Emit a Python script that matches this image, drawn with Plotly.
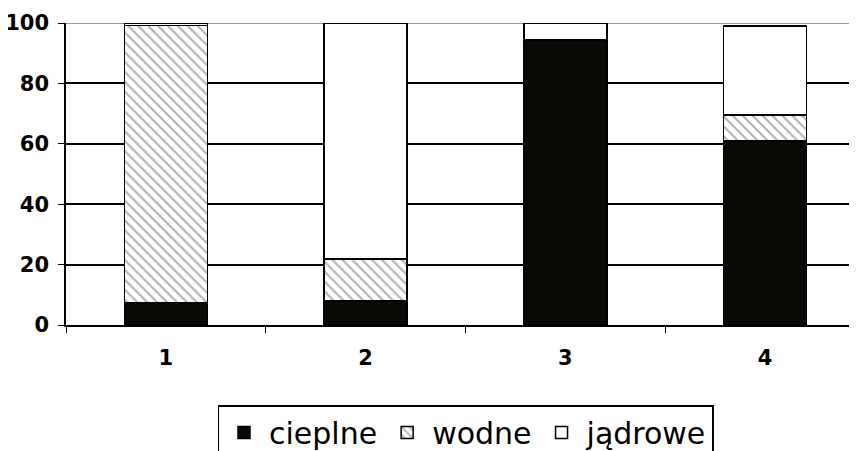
import plotly.graph_objects as go

categories = ["1", "2", "3", "4"]
cieplne = [7.4, 8.0, 94.3, 61.0]
wodne = [91.7, 13.8, 0.0, 8.5]
jadrowe = [0.9, 78.2, 5.7, 29.5]
y_ticks = [0, 20, 40, 60, 80, 100]

tick_font = dict(size=21, family="DejaVu Sans, Arial, sans-serif", weight="bold", color="black")

fig = go.Figure()
line = dict(color="black", width=1.5)
fig.add_trace(go.Bar(x=categories, y=cieplne, name="cieplne",
                     marker=dict(color="#0a0906", line=line)))
fig.add_trace(go.Bar(x=categories, y=wodne, name="wodne",
                     marker=dict(color="white", line=line,
                                 pattern=dict(shape="\\", fgcolor="#666666", bgcolor="white",
                                              size=7, solidity=0.3))))
fig.add_trace(go.Bar(x=categories, y=jadrowe, name="jądrowe",
                     marker=dict(color="white", line=line)))

fig.add_shape(type="line", xref="paper", yref="y", x0=0, x1=1, y0=100, y1=100,
              line=dict(color="#999999", width=2), layer="below")

fig.update_layout(
    barmode="stack",
    bargap=0.585,
    width=857, height=451,
    margin=dict(l=58, r=0, t=15, b=134, autoexpand=False),
    paper_bgcolor="white", plot_bgcolor="white",
    font=dict(family="DejaVu Sans, Arial, sans-serif", color="black"),
    showlegend=True,
    legend=dict(orientation="h", x=0.5, xanchor="center", y=-0.265, yanchor="top",
                font=dict(size=30, family="DejaVu Sans, Arial, sans-serif"),
                bordercolor="black", borderwidth=1.5, traceorder="normal",
                itemwidth=40),
    xaxis=dict(range=[-0.5, 3.5], showline=True, linecolor="black", linewidth=1.5,
               ticks="outside", tickson="boundaries", ticklen=6, tickcolor="black",
               tickfont=tick_font, ticklabelstandoff=13, showgrid=False),
    yaxis=dict(range=[0, 100], tickvals=y_ticks, showline=True, linecolor="black", linewidth=1.5,
               ticks="outside", ticklen=6, tickcolor="black", tickfont=tick_font,
               ticklabelstandoff=5,
               showgrid=True, gridcolor="black", gridwidth=1.5, zeroline=False),
)

fig.write_html("out.html")
